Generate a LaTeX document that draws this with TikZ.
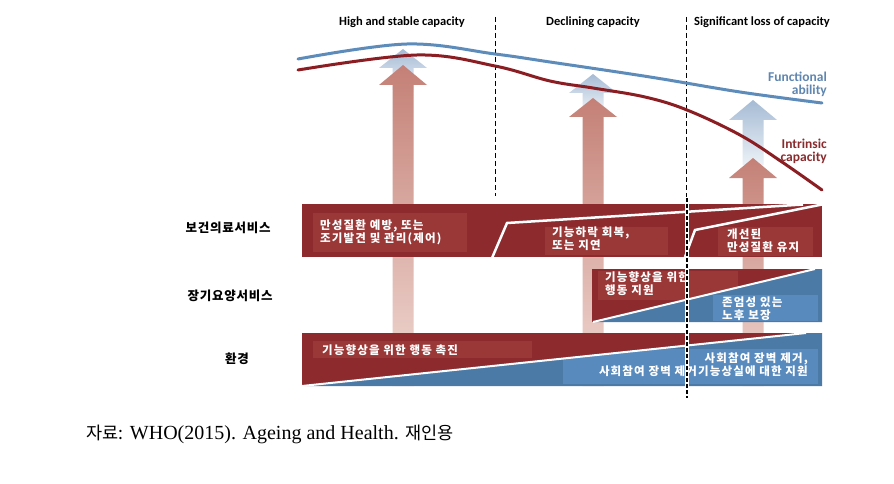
\documentclass[tikz,border=0pt]{standalone}
\usepackage{fontspec}
\setmainfont{Liberation Serif}
\newfontfamily\kr{Noto Sans CJK KR}
\newfontfamily\krsp[LetterSpace=10]{Noto Sans CJK KR}
\newfontfamily\krlab[LetterSpace=6]{Noto Sans CJK KR}
\newfontfamily\hd{Carlito}
\definecolor{bandred}{RGB}{140,42,46}
\definecolor{boxred}{RGB}{154,56,56}
\definecolor{bandblue}{RGB}{76,122,166}
\definecolor{boxblue}{RGB}{88,138,190}
\definecolor{cblue}{RGB}{93,140,187}
\definecolor{cred}{RGB}{139,30,35}
\definecolor{lblue}{RGB}{95,134,176}
\definecolor{lred}{RGB}{138,43,46}
\definecolor{arrRa}{RGB}{196,128,118}
\definecolor{arrRb}{RGB}{240,218,212}
\definecolor{arrBa}{RGB}{165,187,212}
\definecolor{arrBb}{RGB}{236,241,247}
\newcommand\vArrow[6]{%
  \shade[top color=#5,bottom color=#6] (#1,#2) -- ({#1+24},#3) -- ({#1+10.5},#3) -- ({#1+10.5},#4) -- ({#1-10.5},#4) -- ({#1-10.5},#3) -- ({#1-24},#3) -- cycle;}
\tikzset{
  heading/.style={font=\hd\bfseries\fontsize{12.5}{14}\selectfont, inner sep=0pt},
  curvelab/.style={font=\hd\bfseries\fontsize{13.5}{13}\selectfont, inner sep=0pt, anchor=east, align=right},
  leftlab/.style={font=\krlab\bfseries\fontsize{12.5}{14}\selectfont, inner sep=0pt},
  wtxt/.style={text=white, font=\krsp\bfseries\fontsize{11.5}{13}\selectfont, inner sep=0pt, anchor=west, align=left},
  whiteline/.style={white, line width=2.5pt, line join=miter},
  phasedash/.style={black, line width=0.9pt, dash pattern=on 5pt off 3pt},
}
\begin{document}
\begin{tikzpicture}[x=1pt,y=-1pt]
\useasboundingbox (0,0) rectangle (894,484);
\fill[white] (0,0) rectangle (894,484);

% phase headings
\node[heading] (h1) at (402,22) {High and stable capacity};
\node[heading] (h2) at (593,22) {Declining capacity};
\node[heading] (h3) at (762,22) {Significant loss of capacity};

% upper dashed lines
\coordinate (d1a) at (495,17); \coordinate (d1b) at (495,196);
\coordinate (d2a) at (686,17); \coordinate (d2b) at (686,197);
\draw[phasedash] (d1a) -- (d1b);
\draw[phasedash] (d2a) -- (d2b);

% arrows
\vArrow{403}{49}{68}{90}{arrBa}{arrBb}
\vArrow{403}{65}{85}{386}{arrRa}{arrRb}
\vArrow{593}{74}{93}{110}{arrBa}{arrBb}
\vArrow{593}{98}{117}{386}{arrRa}{arrRb}
\vArrow{753}{100}{120}{165}{arrBa}{arrBb}
\vArrow{753}{158}{178}{386}{arrRa}{arrRb}

% curves
\draw[cblue, line width=3pt, line cap=round] plot[smooth, tension=0.6] coordinates {(298,59) (407,44) (495,54) (550,62) (650,77) (740,92) (822,103)};
\draw[cred, line width=3pt, line cap=round] plot[smooth, tension=0.6] coordinates {(298,70) (417,55) (495,66) (550,81) (593,88) (645,97) (687,110) (740,135) (782,162) (822,190)};
\node[curvelab, text=lblue] (fa) at (827,84) {Functional\\ability};
\node[curvelab, text=lred] (ic) at (827,151) {Intrinsic\\capacity};

% band 1
\fill[bandred] (302,204) rectangle (822,257);
\fill[boxred] (313,213) rectangle (467,252);
\fill[boxred] (545,227) rectangle (668,255);
\fill[boxred] (718,227) rectangle (813,256);
\draw[whiteline] (492,258) -- (507,223) -- (803,204.5);
\draw[whiteline] (685,257) -- (695,230) -- (822,204.5);
\node[wtxt, text width=150pt] (t1) at (320,232.5) {\baselineskip=15pt 만성질환 예방, 또는\\조기발견 및 관리(제어)};
\node[wtxt, text width=120pt] (t2) at (552,238.5) {기능하락 회복,\\또는 지연};
\node[wtxt, text width=95pt] (t3) at (727,240.5) {개선된\\만성질환 유지};

% band 2
\fill[bandred] (592,269) rectangle (822,322);
\begin{scope}
  \clip (592,269) -- (815,269) -- (593,322) -- cycle;
  \fill[boxred] (598,271) rectangle (738,300);
\end{scope}
\fill[bandblue] (593,322) -- (815,269) -- (822,269) -- (822,322) -- cycle;
\begin{scope}
  \clip (593,322) -- (815,269) -- (822,269) -- (822,322) -- cycle;
  \fill[boxblue] (713,295) rectangle (818,321);
\end{scope}
\draw[white, line width=2pt] (593,322) -- (815,269);
\node[wtxt, text width=140pt] (t4) at (605,284) {\baselineskip=16pt 기능향상을 위한\\행동 지원};
\node[wtxt, text width=95pt] (t5) at (722,308.5) {존엄성 있는\\노후 보장};

% band 3
\fill[bandred] (302,333) rectangle (822,386);
\fill[boxred] (313,341) rectangle (532,358);
\fill[bandblue] (302,386) -- (806,333) -- (822,333) -- (822,386) -- cycle;
\begin{scope}
  \clip (302,386) -- (806,333) -- (822,333) -- (822,386) -- cycle;
  \fill[boxblue] (563,349) rectangle (818,384);
\end{scope}
\draw[white, line width=2pt] (302,386) -- (806,333);
\node[wtxt] (t6) at (322,350) {기능향상을 위한 행동 촉진};
\node[wtxt, anchor=east, align=right] (t7) at (808,365) {사회참여 장벽 제거,\\사회참여 장벽 제거기능상실에 대한 지원};

% lower dashed line through bands
\coordinate (d3a) at (687,198); \coordinate (d3b) at (687,398);
\draw[white, line width=3.5pt] (d3a) -- (d3b);
\draw[black, line width=2pt, dash pattern=on 4pt off 2pt] (d3a) -- (d3b);

% left labels
\node[leftlab] (l1) at (228,228) {보건의료서비스};
\node[leftlab] (l2) at (230,296) {장기요양서비스};
\node[leftlab] (l3) at (237,359) {환경};

% caption
\node[anchor=west, inner sep=0pt, font=\fontsize{20}{22}\selectfont] (cap) at (86,434) {{\kr\fontsize{17.5}{20}\selectfont 자료:} WHO(2015). Ageing and Health. {\kr\fontsize{17.5}{20}\selectfont 재인용}};
\end{tikzpicture}
\end{document}
